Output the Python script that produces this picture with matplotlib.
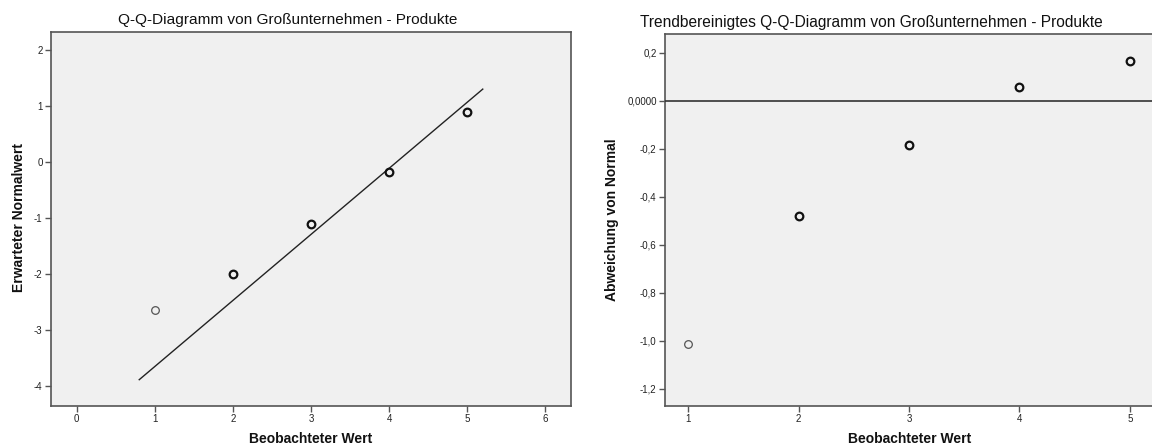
import matplotlib
matplotlib.use("Agg")
import matplotlib.pyplot as plt
from matplotlib.ticker import FuncFormatter

plt.rcParams['font.family'] = ['Liberation Sans', 'DejaVu Sans']
plt.rcParams['axes.unicode_minus'] = False

observed = [1, 2, 3, 4, 5]
expected = [-2.64, -2.00, -1.11, -0.18, 0.89]
deviation = [-1.013, -0.478, -0.185, 0.060, 0.165]
multiple = [False, True, True, True, True]
line_x = [0.8, 5.2]
line_y = [-3.89, 1.30]

left_title = "Q-Q-Diagramm von Großunternehmen - Produkte"
right_title = "Trendbereinigtes Q-Q-Diagramm von Großunternehmen - Produkte"
xlabel = "Beobachteter Wert"
left_ylabel = "Erwarteter Normalwert"
right_ylabel = "Abweichung von Normal"

W, H = 1152, 445
fig = plt.figure(figsize=(W / 100, H / 100), dpi=100)
face = "#f0f0f0"
spine_c = "#555555"

def style(ax):
    ax.set_facecolor(face)
    for s in ax.spines.values():
        s.set_color(spine_c)
        s.set_linewidth(1.2)
    ax.tick_params(direction="out", length=4, width=1, color=spine_c,
                   labelsize=7, labelcolor="#222222", pad=2)

def draw_points(ax, xs, ys):
    for x, y, m in zip(xs, ys, multiple):
        if m:
            ax.plot(x, y, "o", ms=5.5, mfc="none", mec="#111111", mew=1.6, zorder=4)
        else:
            ax.plot(x, y, "o", ms=5.5, mfc="none", mec="#555555", mew=0.9, zorder=4)

# Left plot
ax1 = fig.add_axes([51 / W, 1 - 406 / H, 520 / W, (406 - 32) / H])
style(ax1)
ax1.set_xlim(-0.33, 6.33)
ax1.set_ylim(-4.36, 2.32)
ax1.set_xticks(range(0, 7))
ax1.set_yticks(range(-4, 3))
ax1.plot(line_x, line_y, color="#222222", lw=1.0, zorder=3)
draw_points(ax1, observed, expected)

# Right plot
ax2 = fig.add_axes([665 / W, 1 - 406 / H, (W - 665) / W, (406 - 34) / H])
style(ax2)
ax2.spines["right"].set_visible(False)
ax2.set_xlim(0.79, 5.2)
ax2.set_ylim(-1.271, 0.279)
ax2.set_xticks(observed)
ax2.set_yticks([-1.2, -1.0, -0.8, -0.6, -0.4, -0.2, 0.0, 0.2])

def fmt(v, pos):
    if abs(v) < 1e-9:
        return "0,0000"
    return ("%.1f" % v).replace(".", ",")

ax2.yaxis.set_major_formatter(FuncFormatter(fmt))
ax2.axhline(0, color="#333333", lw=1.2, zorder=3)
draw_points(ax2, observed, deviation)

# Titles and labels
fig.text(288 / W, 1 - 20 / H, left_title, ha="center", va="center", fontsize=11.1, color="#111111")
fig.text(871 / W, 1 - 22 / H, right_title, ha="center", va="center", fontsize=11.2, color="#111111")
fig.text(311 / W, 1 - 439 / H, xlabel, ha="center", va="center", fontsize=10, fontweight="bold", color="#111111")
fig.text(910 / W, 1 - 439 / H, xlabel, ha="center", va="center", fontsize=10, fontweight="bold", color="#111111")
fig.text(19 / W, 1 - 217 / H, left_ylabel, ha="center", va="center", rotation=90, fontsize=10, fontweight="bold", color="#111111")
fig.text(612 / W, 1 - 220 / H, right_ylabel, ha="center", va="center", rotation=90, fontsize=10, fontweight="bold", color="#111111")

fig.savefig("out.png", dpi=100, facecolor="white")
